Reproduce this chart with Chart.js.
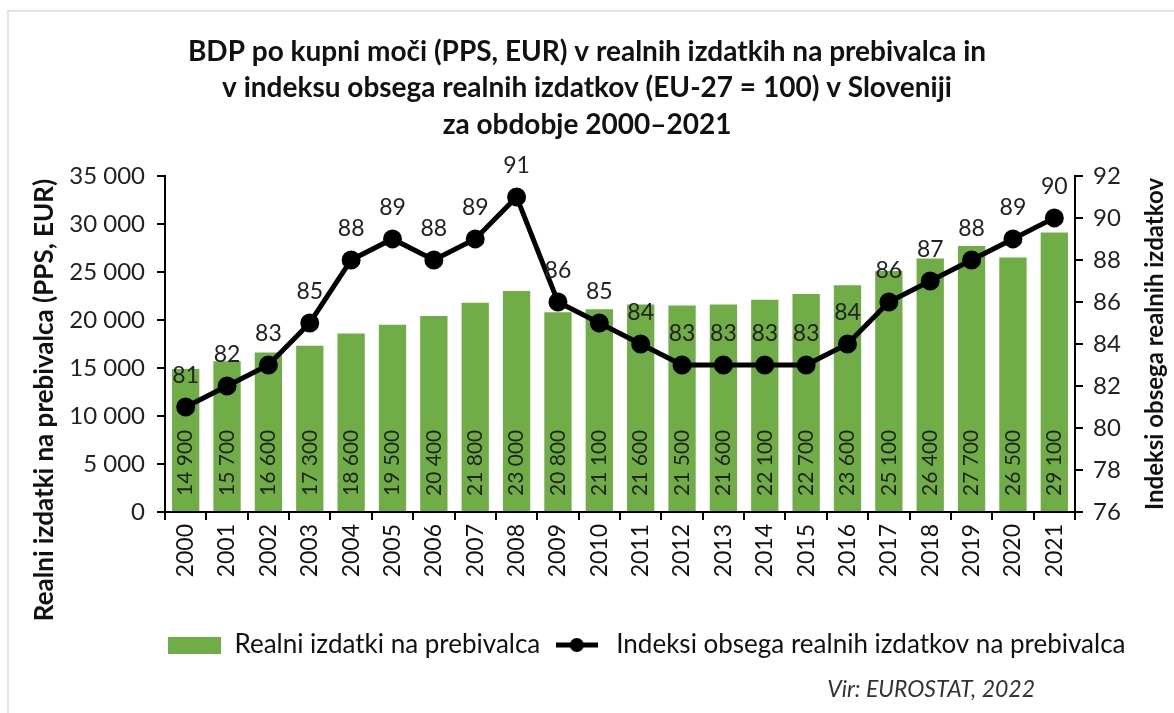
<!DOCTYPE html>
<html lang="sl">
<head>
    <meta charset="UTF-8">
    <title>BDP po kupni moči v Sloveniji</title>
    <style>
        html, body{
            margin: 0;
            padding: 0;
            background-color: #fff;
        }
        .container{
            position: relative;
            width: 1174px;
            height: 713px;
        }
        .rahmen{
            position: absolute;
            left: 7px;
            top: 10px;
            right: 0;
            bottom: 0;
            border-top: 2px solid #e2e2e2;
            border-left: 2px solid #e2e2e2;
            pointer-events: none;
        }
    </style>
</head>
<body>
    <div class="container">
        <canvas id="diagramm" width="1174" height="713"></canvas>
        <div class="rahmen"></div>
    </div>

    <script src="https://cdn.jsdelivr.net/npm/chart.js"></script>
    <script>
        // Podatki
        const leta = ['2000','2001','2002','2003','2004','2005','2006','2007','2008','2009','2010',
                      '2011','2012','2013','2014','2015','2016','2017','2018','2019','2020','2021'];
        const izdatki = [14900, 15700, 16600, 17300, 18600, 19500, 20400, 21800, 23000, 20800, 21100,
                         21600, 21500, 21600, 22100, 22700, 23600, 25100, 26400, 27700, 26500, 29100];
        const indeks = [81, 82, 83, 85, 88, 89, 88, 89, 91, 86, 85,
                        84, 83, 83, 83, 83, 84, 86, 87, 88, 89, 90];
        const levaOs = [0, 35000, 5000];   // min, max, korak
        const desnaOs = [76, 92, 2];

        const naslov = ['BDP po kupni moči (PPS, EUR) v realnih izdatkih na prebivalca in',
                        'v indeksu obsega realnih izdatkov (EU-27 = 100) v Sloveniji',
                        'za obdobje 2000–2021'];
        const naslovLevo = 'Realni izdatki na prebivalca (PPS, EUR)';
        const naslovDesno = 'Indeksi obsega realnih izdatkov';
        const vir = 'Vir: EUROSTAT, 2022';

        const zelena = '#70ad47';
        const pisava = 'Lato, "Open Sans", sans-serif';

        function stevilo(v){
            return String(v).replace(/\B(?=(\d{3})+(?!\d))/g, ' ');
        }

        // znaka za legendo
        function znakStolpec(){
            const c = document.createElement('canvas');
            c.width = 53; c.height = 17;
            const x = c.getContext('2d');
            x.fillStyle = zelena;
            x.fillRect(0, 0, 53, 17);
            return c;
        }
        function znakCrta(){
            const c = document.createElement('canvas');
            c.width = 42; c.height = 16;
            const x = c.getContext('2d');
            x.strokeStyle = '#000';
            x.lineWidth = 5;
            x.beginPath(); x.moveTo(0, 8); x.lineTo(42, 8); x.stroke();
            x.fillStyle = '#000';
            x.beginPath(); x.arc(21, 8, 7, 0, Math.PI * 2); x.fill();
            return c;
        }

        const oznake = {
            id: 'oznake',
            afterLayout(chart){
                // legenda je v originalu nekoliko desno
                chart.legend.left += 60;
                chart.legend.right += 60;
            },
            afterDatasetsDraw(chart){
                const ctx = chart.ctx;
                const y = chart.scales.y;
                ctx.save();
                ctx.fillStyle = '#222';
                ctx.font = '21px ' + pisava;
                chart.getDatasetMeta(0).data.forEach((bar, i) => {
                    ctx.save();
                    ctx.translate(bar.x, y.bottom - 16);
                    ctx.rotate(-Math.PI / 2);
                    ctx.textAlign = 'left';
                    ctx.textBaseline = 'middle';
                    ctx.fillText(stevilo(izdatki[i]), 0, 0);
                    ctx.restore();
                });
                ctx.font = '23px ' + pisava;
                ctx.textAlign = 'center';
                ctx.textBaseline = 'middle';
                chart.getDatasetMeta(1).data.forEach((pt, i) => {
                    ctx.fillText(String(indeks[i]), pt.x, pt.y - 31);
                });

                // naslova osi
                ctx.fillStyle = '#111';
                ctx.font = 'bold 26px ' + pisava;
                ctx.save();
                ctx.translate(45, 400);
                ctx.rotate(-Math.PI / 2);
                ctx.fillText(naslovLevo, 0, 0);
                ctx.restore();
                ctx.font = 'bold 24px ' + pisava;
                ctx.save();
                ctx.translate(1155, (chart.chartArea.top + chart.chartArea.bottom) / 2);
                ctx.rotate(-Math.PI / 2);
                ctx.fillText(naslovDesno, 0, 0);
                ctx.restore();

                // vir
                ctx.font = 'italic 23px ' + pisava;
                ctx.fillStyle = '#333';
                ctx.textAlign = 'right';
                ctx.fillText(vir, 1035, 690);
                ctx.restore();
            }
        };

        const mreza = {
            display: true,
            drawOnChartArea: false,
            drawTicks: true,
            tickLength: 8,
            color: '#000',
            lineWidth: 2
        };

        new Chart(document.getElementById('diagramm').getContext('2d'), {
            data: {
                labels: leta,
                datasets: [{
                    type: 'bar',
                    label: 'Realni izdatki na prebivalca',
                    data: izdatki,
                    backgroundColor: zelena,
                    borderWidth: 0,
                    categoryPercentage: 1,
                    barPercentage: 0.66,
                    yAxisID: 'y',
                    order: 1
                }, {
                    type: 'line',
                    label: 'Indeksi obsega realnih izdatkov na prebivalca',
                    data: indeks,
                    borderColor: '#000',
                    backgroundColor: '#000',
                    borderWidth: 5,
                    pointRadius: 7,
                    pointBackgroundColor: '#000',
                    tension: 0,
                    yAxisID: 'y1',
                    order: 0
                }]
            },
            options: {
                responsive: false,
                animation: false,
                devicePixelRatio: 1,
                layout: { padding: { top: 33, bottom: 45, left: 0, right: 0 } },
                plugins: {
                    tooltip: { enabled: false },
                    title: {
                        display: true,
                        text: naslov,
                        color: '#111',
                        font: { family: pisava, size: 28, weight: 'bold', lineHeight: 1.32 },
                        padding: { top: 0, bottom: 32 }
                    },
                    legend: {
                        position: 'bottom',
                        labels: {
                            color: '#111',
                            font: { family: pisava, size: 26 },
                            usePointStyle: true,
                            pointStyleWidth: 53,
                            padding: 10,
                            generateLabels(chart){
                                return chart.data.datasets.map((ds, i) => ({
                                    text: ds.label,
                                    pointStyle: i === 0 ? znakStolpec() : znakCrta(),
                                    datasetIndex: i,
                                    hidden: false,
                                    lineWidth: 0,
                                    fontColor: '#111'
                                }));
                            }
                        }
                    }
                },
                scales: {
                    x: {
                        offset: true,
                        grid: Object.assign({}, mreza, { offset: true }),
                        border: { color: '#000', width: 2 },
                        ticks: {
                            color: '#111',
                            minRotation: 90,
                            maxRotation: 90,
                            padding: 4,
                            font: { family: pisava, size: 23 }
                        },
                        afterFit(s){ s.height = 110; }
                    },
                    y: {
                        position: 'left',
                        min: levaOs[0],
                        max: levaOs[1],
                        grid: mreza,
                        border: { color: '#000', width: 2 },
                        ticks: {
                            stepSize: levaOs[2],
                            color: '#222',
                            padding: 12,
                            font: { family: pisava, size: 24 },
                            callback: v => stevilo(v)
                        },
                        afterFit(s){ s.width = 165; }
                    },
                    y1: {
                        position: 'right',
                        min: desnaOs[0],
                        max: desnaOs[1],
                        grid: mreza,
                        border: { color: '#000', width: 2 },
                        ticks: {
                            stepSize: desnaOs[2],
                            color: '#222',
                            padding: 10,
                            font: { family: pisava, size: 24 }
                        },
                        afterFit(s){ s.width = 99; }
                    }
                }
            },
            plugins: [oznake]
        });
    </script>
</body>
</html>
